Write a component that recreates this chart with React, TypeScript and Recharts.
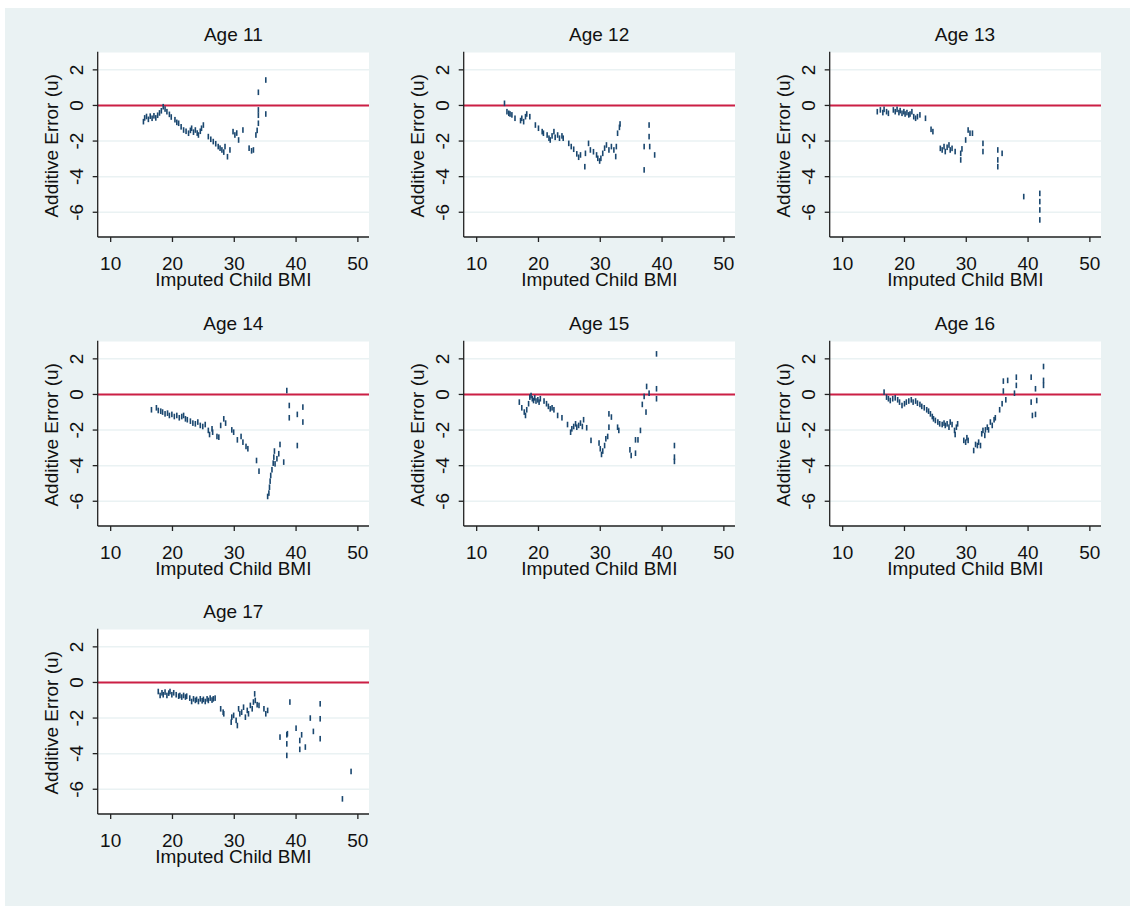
import { CartesianGrid, ReferenceLine, Scatter, ScatterChart, XAxis, YAxis } from "recharts";

// panel titles
const panelTitles = ["Age 11", "Age 12", "Age 13", "Age 14", "Age 15", "Age 16", "Age 17"];

const xTicks = [10, 20, 30, 40, 50];
const yTicks = [-6, -4, -2, 0, 2];

// Age 11
const bmi11 = [15.3, 15.5, 15.8, 16.1, 16.4, 16.7, 17.0, 17.3, 17.6, 17.9, 18.2, 18.5, 18.8, 19.1, 19.5, 19.8, 20.4, 20.7, 21.0, 21.4, 21.8, 22.2, 22.6, 22.9, 23.1, 23.4, 23.7, 24.0, 24.2, 24.5, 24.7, 25.0, 25.8, 26.2, 26.6, 27.0, 27.4, 27.7, 28.0, 28.3, 28.5, 28.9, 29.3, 29.8, 30.1, 30.4, 30.7, 31.4, 32.4, 32.8, 33.1, 33.5, 33.7, 33.9, 33.9, 33.9, 33.9, 35.1, 35.1];
const err11 = [-0.91, -0.7, -0.62, -0.78, -0.6, -0.72, -0.58, -0.7, -0.55, -0.42, -0.3, -0.07, -0.2, -0.35, -0.5, -0.65, -0.8, -0.95, -1.0, -1.2, -1.38, -1.45, -1.56, -1.4, -1.28, -1.5, -1.38, -1.55, -1.66, -1.45, -1.28, -1.1, -1.75, -1.9, -2.03, -2.15, -2.31, -2.4, -2.5, -2.62, -2.31, -2.88, -2.5, -1.47, -1.66, -1.55, -1.94, -1.38, -2.4, -2.55, -2.5, -1.66, -1.4, -1.0, -0.55, -0.25, 0.74, 1.43, -0.48];

// Age 12
const bmi12 = [14.5, 14.9, 15.2, 15.4, 15.7, 16.2, 17.1, 17.3, 17.6, 17.9, 18.1, 18.6, 19.5, 20.0, 20.6, 20.8, 21.4, 21.7, 21.9, 22.2, 22.5, 22.7, 23.1, 23.4, 23.8, 24.0, 24.9, 25.3, 25.7, 26.2, 26.5, 26.8, 27.5, 27.6, 28.1, 28.4, 28.9, 29.4, 29.6, 29.9, 30.1, 30.4, 30.7, 31.0, 31.4, 31.8, 32.2, 32.5, 32.6, 32.8, 33.1, 33.2, 37.1, 37.1, 37.9, 37.9, 38.0, 38.8];
const err12 = [0.12, -0.35, -0.44, -0.48, -0.53, -0.72, -0.85, -0.72, -0.91, -0.63, -0.48, -0.63, -1.1, -1.28, -1.47, -1.56, -1.66, -1.84, -1.94, -1.71, -1.47, -1.79, -1.66, -1.84, -1.71, -1.84, -2.13, -2.31, -2.46, -2.72, -2.91, -2.78, -3.44, -2.69, -2.13, -2.5, -2.6, -2.78, -2.97, -3.12, -2.97, -2.69, -2.4, -2.22, -2.5, -2.31, -2.5, -2.87, -2.31, -1.56, -1.23, -1.04, -2.31, -3.62, -1.1, -1.75, -2.31, -2.78];

// Age 13
const bmi13 = [15.6, 16.1, 16.5, 16.7, 17.1, 17.4, 18.2, 18.5, 18.8, 19.1, 19.3, 19.6, 19.9, 20.1, 20.4, 20.7, 20.9, 21.2, 21.5, 21.8, 22.1, 22.5, 23.4, 24.3, 24.6, 25.8, 26.1, 26.4, 26.6, 26.9, 27.2, 27.4, 27.7, 28.2, 29.1, 29.1, 29.3, 29.9, 30.3, 30.6, 31.0, 32.7, 32.7, 35.1, 35.1, 35.1, 35.8, 39.3, 41.9, 41.9, 41.9, 41.9];
const err13 = [-0.35, -0.25, -0.4, -0.22, -0.35, -0.44, -0.25, -0.35, -0.22, -0.4, -0.29, -0.44, -0.35, -0.48, -0.4, -0.53, -0.48, -0.35, -0.63, -0.72, -0.63, -0.53, -0.72, -1.34, -1.47, -2.41, -2.5, -2.31, -2.59, -2.35, -2.22, -2.5, -2.41, -2.59, -2.69, -3.06, -2.44, -1.94, -1.38, -1.56, -1.56, -2.13, -2.59, -2.5, -3.06, -3.44, -2.69, -5.12, -4.94, -5.4, -5.87, -6.43];

// Age 14
const bmi14 = [16.6, 17.4, 17.7, 18.1, 18.4, 18.8, 19.2, 19.5, 19.9, 20.3, 20.7, 21.1, 21.5, 21.8, 22.1, 22.4, 22.9, 23.3, 23.7, 24.1, 24.5, 24.9, 25.3, 25.8, 26.0, 26.4, 26.5, 27.2, 27.5, 27.8, 28.3, 28.6, 29.6, 29.9, 30.5, 31.1, 31.4, 31.9, 32.2, 33.6, 34.0, 35.4, 35.6, 35.7, 35.8, 35.9, 36.1, 36.3, 36.4, 36.5, 36.6, 36.9, 37.2, 37.4, 38.0, 38.5, 38.9, 38.9, 40.2, 40.2, 41.1, 41.1];
const err14 = [-0.86, -0.75, -0.9, -0.94, -0.99, -1.09, -1.05, -1.18, -1.12, -1.24, -1.18, -1.31, -1.24, -1.18, -1.37, -1.42, -1.5, -1.61, -1.65, -1.55, -1.74, -1.8, -1.69, -2.02, -2.25, -1.93, -2.12, -2.36, -2.4, -1.74, -1.37, -1.61, -1.99, -2.12, -2.55, -2.36, -2.68, -2.92, -3.05, -3.71, -4.31, -5.73, -5.54, -5.21, -4.87, -4.55, -4.23, -3.86, -3.52, -3.18, -3.9, -3.61, -3.33, -2.81, -3.8, 0.22, -0.62, -1.31, -1.12, -2.87, -0.71, -1.55];

// Age 15
const bmi15 = [16.9, 17.3, 17.7, 17.9, 18.1, 18.4, 18.6, 18.8, 19.0, 19.2, 19.4, 19.6, 19.9, 20.1, 20.3, 20.9, 21.3, 21.6, 21.9, 22.2, 22.5, 23.1, 23.8, 24.7, 25.2, 25.4, 25.7, 26.0, 26.2, 26.5, 26.8, 27.1, 27.3, 27.8, 28.5, 29.8, 30.0, 30.2, 30.4, 30.7, 30.9, 31.2, 31.4, 31.4, 31.8, 32.8, 33.0, 34.8, 35.0, 35.7, 35.7, 36.1, 36.5, 36.8, 37.1, 37.4, 37.5, 37.9, 39.1, 39.1, 39.1, 42.0, 42.0, 42.0];
const err15 = [-0.43, -0.75, -0.99, -1.18, -0.86, -0.52, -0.15, -0.06, -0.24, -0.34, -0.19, -0.37, -0.3, -0.43, -0.24, -0.37, -0.52, -0.67, -0.81, -0.75, -0.86, -1.18, -1.31, -1.69, -2.12, -1.93, -1.8, -1.65, -1.84, -1.74, -1.61, -1.8, -1.42, -1.87, -2.58, -2.73, -3.05, -3.37, -3.18, -2.87, -2.49, -2.36, -1.84, -1.09, -1.27, -1.84, -2.02, -3.11, -3.43, -3.3, -2.55, -2.55, -2.02, -0.56, -0.11, -0.99, 0.45, 0.07, 2.28, 0.32, -0.24, -2.87, -3.52, -3.76];

// Age 16
const bmi16 = [16.7, 17.1, 17.4, 17.7, 18.1, 18.5, 18.9, 19.2, 19.6, 20.0, 20.3, 20.7, 21.1, 21.4, 21.8, 22.1, 22.5, 22.8, 23.2, 23.6, 23.9, 24.2, 24.5, 24.7, 25.0, 25.4, 25.7, 26.1, 26.4, 26.6, 26.9, 27.2, 27.4, 27.7, 28.1, 28.2, 28.4, 28.6, 29.6, 29.9, 30.1, 30.3, 31.2, 31.5, 31.8, 32.0, 32.3, 32.5, 32.7, 33.0, 33.1, 33.4, 33.6, 33.9, 34.2, 34.5, 34.7, 35.4, 35.8, 36.0, 36.0, 36.4, 36.7, 37.8, 38.1, 38.1, 40.5, 40.5, 40.7, 41.2, 41.2, 41.4, 42.5, 42.5, 42.5];
const err16 = [0.13, -0.15, -0.24, -0.34, -0.24, -0.19, -0.3, -0.43, -0.62, -0.52, -0.43, -0.37, -0.3, -0.43, -0.37, -0.49, -0.56, -0.67, -0.75, -0.86, -0.94, -1.09, -1.24, -1.37, -1.46, -1.55, -1.65, -1.69, -1.61, -1.74, -1.65, -1.84, -1.55, -1.69, -2.02, -2.25, -1.84, -1.65, -2.58, -2.68, -2.43, -2.58, -3.15, -2.81, -2.87, -2.68, -2.87, -2.21, -2.02, -2.3, -1.99, -1.84, -1.99, -1.55, -1.74, -1.42, -1.31, -0.86, -0.52, 0.19, 0.75, -0.3, 0.79, 0.07, 0.97, 0.51, 0.97, -0.43, -1.18, 0.32, -1.12, -0.34, 1.57, 0.79, 0.51];

// Age 17
const bmi17 = [17.7, 18.0, 18.3, 18.5, 18.8, 19.1, 19.4, 19.6, 19.9, 20.2, 20.6, 21.0, 21.2, 21.5, 21.8, 22.1, 22.3, 22.8, 23.1, 23.4, 23.7, 23.9, 24.2, 24.5, 24.8, 25.0, 25.3, 25.6, 25.8, 26.1, 26.4, 26.6, 26.9, 27.8, 28.2, 28.3, 29.5, 29.6, 29.9, 30.3, 30.5, 30.7, 30.9, 31.2, 31.5, 31.8, 32.1, 32.3, 32.6, 32.9, 33.1, 33.3, 33.4, 33.7, 34.0, 34.8, 35.1, 35.4, 37.4, 38.5, 38.5, 38.5, 38.6, 39.0, 40.0, 40.6, 40.6, 40.9, 41.5, 42.3, 42.8, 43.9, 43.9, 43.9, 47.5, 48.9];
const err17 = [-0.51, -0.73, -0.58, -0.69, -0.54, -0.73, -0.6, -0.51, -0.69, -0.58, -0.69, -0.77, -0.73, -0.82, -0.73, -0.82, -0.77, -0.88, -1.07, -0.92, -1.01, -0.95, -1.07, -0.92, -1.03, -0.95, -1.07, -0.92, -1.01, -0.88, -0.99, -0.92, -0.88, -1.48, -1.67, -1.76, -2.23, -1.95, -1.85, -2.13, -2.42, -1.48, -1.76, -1.67, -1.39, -1.95, -1.57, -1.76, -1.29, -1.48, -1.1, -0.64, -1.01, -1.25, -1.29, -1.48, -1.76, -1.57, -3.07, -2.94, -3.45, -4.1, -2.88, -1.1, -2.57, -3.26, -3.76, -2.94, -3.63, -2.0, -2.75, -1.2, -2.04, -3.16, -6.54, -5.0];

const bmiByPanel = [bmi11, bmi12, bmi13, bmi14, bmi15, bmi16, bmi17];
const errByPanel = [err11, err12, err13, err14, err15, err16, err17];

const BG = "#EAF2F3";
const NAVY = "#1a476f";
const RED = "#cc1f45";
const FONT = "'Liberation Sans', Arial, sans-serif";

const CHART_W = 365.8;
const CHART_H = 288.6;
const PLOT_LEFT = 92.7;
const PLOT_TOP = 43.7;
const PLOT_W = 271.3;
const PLOT_H = 185.3;

function Pipe(props: any) {
  const { cx, cy } = props;
  if (cx == null || cy == null) return <g />;
  return <rect x={cx - 0.8} y={cy - 2.8} width={1.6} height={5.6} fill={NAVY} />;
}

function XTick(props: any) {
  const { x, y, payload } = props;
  return (
    <text x={x} y={y + 28.5} textAnchor="middle" fontSize={19} fontFamily={FONT} fill="#111">
      {payload.value}
    </text>
  );
}

function YTick(props: any) {
  const { x, y, payload } = props;
  const bx = x - 9.5;
  return (
    <text
      x={bx}
      y={y}
      textAnchor="middle"
      fontSize={19}
      fontFamily={FONT}
      fill="#111"
      transform={`rotate(-90, ${bx}, ${y})`}
    >
      {payload.value}
    </text>
  );
}

function Panel({ index }: { index: number }) {
  const col = index % 3;
  const row = Math.floor(index / 3);
  const data = bmiByPanel[index].map((b, i) => ({ x: b, y: errByPanel[index][i] }));
  const left = 5 + col * 365.8;
  const top = 8 + row * CHART_H;
  return (
    <div style={{ position: "absolute", left, top, width: CHART_W, height: CHART_H }}>
      <div
        style={{
          position: "absolute",
          left: PLOT_LEFT,
          width: PLOT_W,
          top: 17,
          textAlign: "center",
          fontFamily: FONT,
          fontSize: 19,
          color: "#111",
          lineHeight: "19px",
        }}
      >
        {panelTitles[index]}
      </div>
      <ScatterChart
        width={CHART_W}
        height={CHART_H}
        margin={{ top: PLOT_TOP, right: CHART_W - PLOT_LEFT - PLOT_W, bottom: 0, left: 0 }}
      >
        <CartesianGrid horizontal vertical={false} fill="#ffffff" stroke={BG} strokeWidth={1.5} />
        <XAxis
          type="number"
          dataKey="x"
          domain={[7.9, 51.8]}
          ticks={xTicks}
          allowDataOverflow
          height={CHART_H - PLOT_TOP - PLOT_H}
          tickSize={5}
          tickMargin={0}
          tick={<XTick />}
          axisLine={{ stroke: "#222", strokeWidth: 1.3 }}
          tickLine={{ stroke: "#222", strokeWidth: 1.3 }}
          label={{
            content: (p: any) => {
              const vb = p.viewBox;
              return (
                <text
                  x={vb.x + vb.width / 2}
                  y={vb.y + 49.5}
                  textAnchor="middle"
                  fontSize={19}
                  fontFamily={FONT}
                  fill="#111"
                >
                  Imputed Child BMI
                </text>
              );
            },
          }}
        />
        <YAxis
          type="number"
          dataKey="y"
          domain={[-7.39, 3.02]}
          ticks={yTicks}
          allowDataOverflow
          width={PLOT_LEFT}
          tickSize={5}
          tickMargin={0}
          tick={<YTick />}
          axisLine={{ stroke: "#222", strokeWidth: 1.3 }}
          tickLine={{ stroke: "#222", strokeWidth: 1.3 }}
          label={{
            content: (p: any) => {
              const vb = p.viewBox;
              const lx = 53.5;
              const ly = vb.y + vb.height / 2 + 1.5;
              return (
                <text
                  x={lx}
                  y={ly}
                  textAnchor="middle"
                  fontSize={19}
                  fontFamily={FONT}
                  fill="#111"
                  transform={`rotate(-90, ${lx}, ${ly})`}
                >
                  Additive Error (u)
                </text>
              );
            },
          }}
        />
        <ReferenceLine y={0} stroke={RED} strokeWidth={2} />
        <Scatter data={data} shape={<Pipe />} isAnimationActive={false} />
      </ScatterChart>
    </div>
  );
}

export default function App() {
  return (
    <div style={{ position: "absolute", left: 0, top: 0, width: 1134, height: 906, background: "#ffffff" }}>
      <div style={{ position: "absolute", left: 5, top: 8, width: 1125, height: 898, background: BG }} />
      {panelTitles.map((_, i) => (
        <Panel key={i} index={i} />
      ))}
    </div>
  );
}
